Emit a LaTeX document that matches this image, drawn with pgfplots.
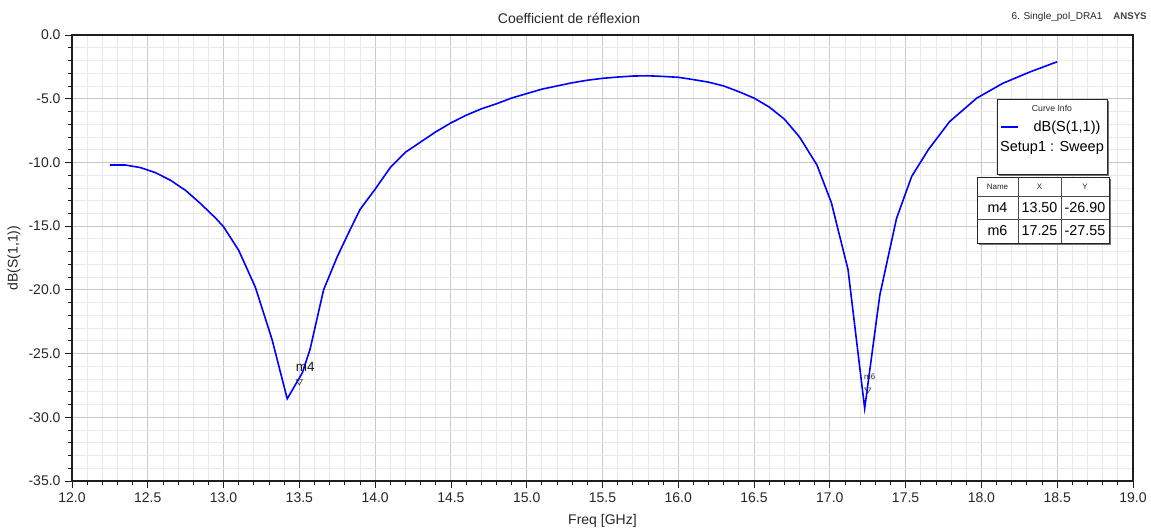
\documentclass[border=0pt]{standalone}
\usepackage{fontspec}
\setmainfont{Liberation Sans}
\usepackage{pgfplots}
\usepackage{pgfplotstable}
\pgfplotsset{compat=1.18}

\definecolor{gridmajor}{HTML}{C9C9C9}
\definecolor{gridminor}{HTML}{E9E9E9}
\definecolor{curveblue}{HTML}{0000FF}
\definecolor{frame}{HTML}{1E1E1E}

\newcommand\fs[1]{\fontsize{#1bp}{#1bp}\selectfont}

% dB(S(1,1)) versus frequency in GHz
\pgfplotstableread{
f      v
12.25  -10.20
12.35  -10.20
12.45  -10.40
12.55  -10.80
12.65  -11.40
12.75  -12.20
12.85  -13.25
12.95  -14.40
13.00  -15.05
13.10  -16.90
13.21  -19.80
13.32  -23.90
13.42  -28.55
13.52  -26.50
13.57  -24.70
13.66  -20.00
13.75  -17.40
13.83  -15.40
13.90  -13.70
14.00  -12.10
14.10  -10.40
14.20  -9.20
14.30  -8.40
14.40  -7.60
14.50  -6.90
14.60  -6.30
14.70  -5.80
14.80  -5.40
14.90  -4.95
15.00  -4.60
15.10  -4.25
15.20  -4.00
15.30  -3.75
15.40  -3.55
15.50  -3.40
15.60  -3.30
15.70  -3.22
15.80  -3.20
15.90  -3.25
16.00  -3.32
16.10  -3.50
16.20  -3.70
16.30  -4.00
16.40  -4.45
16.50  -4.95
16.60  -5.65
16.70  -6.60
16.80  -8.00
16.915 -10.20
17.01  -13.15
17.12  -18.40
17.23  -29.30
17.33  -20.40
17.44  -14.40
17.54  -11.10
17.65  -9.00
17.79  -6.80
17.97  -4.95
18.14  -3.80
18.32  -2.90
18.50  -2.10
}\sparam

\begin{document}
\begin{tikzpicture}
\path[use as bounding box] (0,0) rectangle (1151bp,-531bp);
\begin{axis}[
  at={(72bp,-481bp)}, anchor=south west,
  scale only axis, width=1061bp, height=446bp,
  xmin=12, xmax=19, ymin=-35, ymax=0,
  xtick={12,12.5,...,19}, ytick={-35,-30,...,0},
  minor x tick num=4, minor y tick num=4,
  grid=both,
  major grid style={draw=gridmajor, line width=1bp},
  minor grid style={draw=gridminor, line width=0.8bp},
  axis line style={draw=frame, line width=1.4bp},
  tick style={draw=frame, line width=0.8bp},
  tick align=outside, xtick pos=bottom, ytick pos=left,
  major tick length=7bp, minor tick length=4bp,
  tick label style={font=\fs{14}, text=black!85},
  xticklabel style={yshift=-1bp},
  yticklabel style={xshift=-1bp},
  /pgf/number format/.cd, fixed, fixed zerofill, precision=1, assume math mode=true,
  /pgfplots/.cd,
  xlabel={Freq [GHz]}, ylabel={dB(S(1,1))},
  every axis x label/.style={at={(axis description cs:0.5,-0.0897)}, anchor=center,
    font=\fs{14}, text=black!85},
  every axis y label/.style={at={(axis description cs:-0.0547,0.5)}, anchor=center,
    rotate=90, font=\fs{14}, text=black!85},
  clip=true,
]
\addplot[curveblue, line width=1.6bp] table[x=f, y=v] {\sparam};
% marker m4
\addplot[only marks, mark=triangle, mark size=3.6bp, draw=black!80, line width=0.6bp,
  every mark/.append style={rotate=180, yshift=3.6bp},
  nodes near coords={m4},
  every node near coord/.append style={font=\fs{13.5}, text=black!90, anchor=center, xshift=6bp, yshift=15bp}]
  coordinates {(13.50,-26.90)};
% marker m6
\addplot[only marks, mark=triangle, mark size=3.6bp, draw=black!80, line width=0.6bp,
  every mark/.append style={rotate=180, yshift=3.6bp},
  nodes near coords={m6},
  every node near coord/.append style={font=\fs{8}, text=black!85, anchor=center, xshift=2bp, yshift=13bp}]
  coordinates {(17.25,-27.55)};
\end{axis}

\begin{scope}[x=1bp, y=-1bp]
  % header texts
  \node[font=\fs{14}, text=black!85] at (569,18) {Coefficient de réflexion};
  \node[font=\fs{10}, text=black!85] at (1057,17) {6. Single\_pol\_DRA1};
  \node[font=\fs{9.7}\bfseries, text=black!75] at (1130,16) {ANSYS};

  % curve info box
  \fill[black!55] (999,101) rectangle (1109,176);
  \draw[fill=white, draw=black!85, line width=0.8bp] (997,99) rectangle (1107,174);
  \node[font=\fs{8.7}, text=black!85] at (1052,108) {Curve Info};
  \draw[curveblue, line width=1.6bp] (1001,127) -- (1018,127);
  \node[font=\fs{14.5}, text=black] at (1067,128) {dB(S(1,1))};
  \node[font=\fs{14.5}, text=black] at (1052,148) {Setup1 : Sweep};

  % marker table
  \fill[black!55] (979,179) rectangle (1111,245);
  \draw[fill=white, draw=black!85, line width=0.8bp] (977,177) rectangle (1109,243);
  \draw[black!70, line width=0.6bp] (977,196) -- (1109,196) (977,219) -- (1109,219)
       (1018,177) -- (1018,243) (1061,177) -- (1061,243);
  \node[font=\fs{8}, text=black!85] at (997.5,187) {Name};
  \node[font=\fs{8}, text=black!85] at (1039.5,187) {X};
  \node[font=\fs{8}, text=black!85] at (1085,187) {Y};
  \node[font=\fs{14.3}, text=black] at (997.5,207.5) {m4};
  \node[font=\fs{14.3}, text=black] at (1039.5,207.5) {13.50};
  \node[font=\fs{14.3}, text=black] at (1085,207.5) {-26.90};
  \node[font=\fs{14.3}, text=black] at (997.5,231) {m6};
  \node[font=\fs{14.3}, text=black] at (1039.5,231) {17.25};
  \node[font=\fs{14.3}, text=black] at (1085,231) {-27.55};
\end{scope}
\end{tikzpicture}
\end{document}
